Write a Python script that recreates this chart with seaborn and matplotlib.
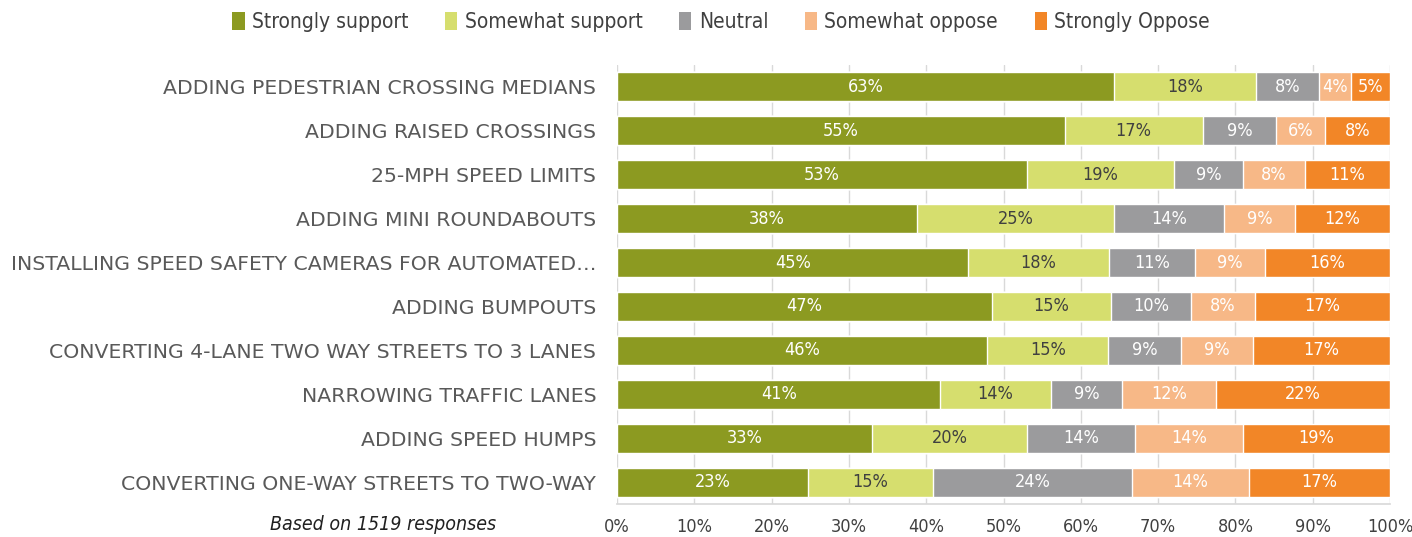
import numpy as np
import pandas as pd
import matplotlib
matplotlib.use("Agg")
import matplotlib.pyplot as plt
import seaborn as sns
from matplotlib.patches import Patch

measures = [
    "ADDING PEDESTRIAN CROSSING MEDIANS",
    "ADDING RAISED CROSSINGS",
    "25-MPH SPEED LIMITS",
    "ADDING MINI ROUNDABOUTS",
    "INSTALLING SPEED SAFETY CAMERAS FOR AUTOMATED…",
    "ADDING BUMPOUTS",
    "CONVERTING 4-LANE TWO WAY STREETS TO 3 LANES",
    "NARROWING TRAFFIC LANES",
    "ADDING SPEED HUMPS",
    "CONVERTING ONE-WAY STREETS TO TWO-WAY",
]
strongly_support = [63, 55, 53, 38, 45, 47, 46, 41, 33, 23]
somewhat_support = [18, 17, 19, 25, 18, 15, 15, 14, 20, 15]
neutral = [8, 9, 9, 14, 11, 10, 9, 9, 14, 24]
somewhat_oppose = [4, 6, 8, 9, 9, 8, 9, 12, 14, 14]
strongly_oppose = [5, 8, 11, 12, 16, 17, 17, 22, 19, 17]
responses = 1519

series_names = ["Strongly support", "Somewhat support", "Neutral",
                "Somewhat oppose", "Strongly Oppose"]
colors = ["#8C9A21", "#D6DE6E", "#9B9B9D", "#F7B887", "#F28627"]
text_colors = ["white", "#404040", "white", "white", "white"]

values = np.array([strongly_support, somewhat_support, neutral,
                   somewhat_oppose, strongly_oppose], dtype=float)
shares = values / values.sum(axis=0) * 100
cum = np.cumsum(shares, axis=0)
starts = cum - shares

sns.set_theme(style="white")
plt.rcParams["font.family"] = ["DejaVu Sans"]
plt.rcParams["font.stretch"] = "condensed"

fig = plt.figure(figsize=(14.12, 5.37), dpi=100)
ax = fig.add_axes([617 / 1412, 1 - 504 / 537, (1390 - 617) / 1412, (504 - 65) / 537])

# stacked bars: draw cumulative totals from the outermost segment inward
for i in reversed(range(len(series_names))):
    df = pd.DataFrame({"measure": measures, "value": cum[i]})
    sns.barplot(data=df, x="value", y="measure", orient="h", color=colors[i],
                saturation=1, width=0.66, ax=ax, zorder=2)

for i in range(len(series_names)):
    for j in range(len(measures)):
        ax.text(starts[i, j] + shares[i, j] / 2, j, f"{int(values[i, j])}%",
                ha="center", va="center", fontsize=13, color=text_colors[i],
                fontstretch="condensed", zorder=3)

ax.set_xlim(0, 100)
ax.set_ylim(len(measures) - 0.5, -0.5)
ax.set_xticks(np.arange(0, 101, 10))
ax.set_xticklabels([f"{t}%" for t in range(0, 101, 10)], fontsize=13,
                   color="#404040", fontstretch="condensed")
ax.xaxis.grid(True, color="#D9D9D9", linewidth=1, zorder=0)
ax.set_axisbelow(True)
ax.set_xlabel("")
ax.set_ylabel("")
ax.tick_params(axis="x", length=0, pad=10)
ax.tick_params(axis="y", length=0, pad=15)
for lab in ax.get_yticklabels():
    lab.set_fontstretch("normal")
    lab.set_fontsize(14.7)
    lab.set_color("#595959")
for s in ["top", "right", "left"]:
    ax.spines[s].set_visible(False)
ax.spines["bottom"].set_color("#D9D9D9")

fig.text(383 / 1412, 1 - 525 / 537, f"Based on {responses} responses",
         ha="center", va="center", fontsize=14, style="italic", color="#202020",
         fontstretch="condensed")

handles = [Patch(facecolor=c, edgecolor="none") for c in colors]
leg = fig.legend(handles, series_names, loc="center",
                 bbox_to_anchor=(721 / 1412, 1 - 22 / 537),
                 ncol=5, frameon=False, fontsize=15, handlelength=0.6, handleheight=1.0,
                 handletextpad=0.35, columnspacing=1.75, labelcolor="#404040")
for t in leg.get_texts():
    t.set_fontstretch("condensed")

fig.savefig("out.png", dpi=100)
